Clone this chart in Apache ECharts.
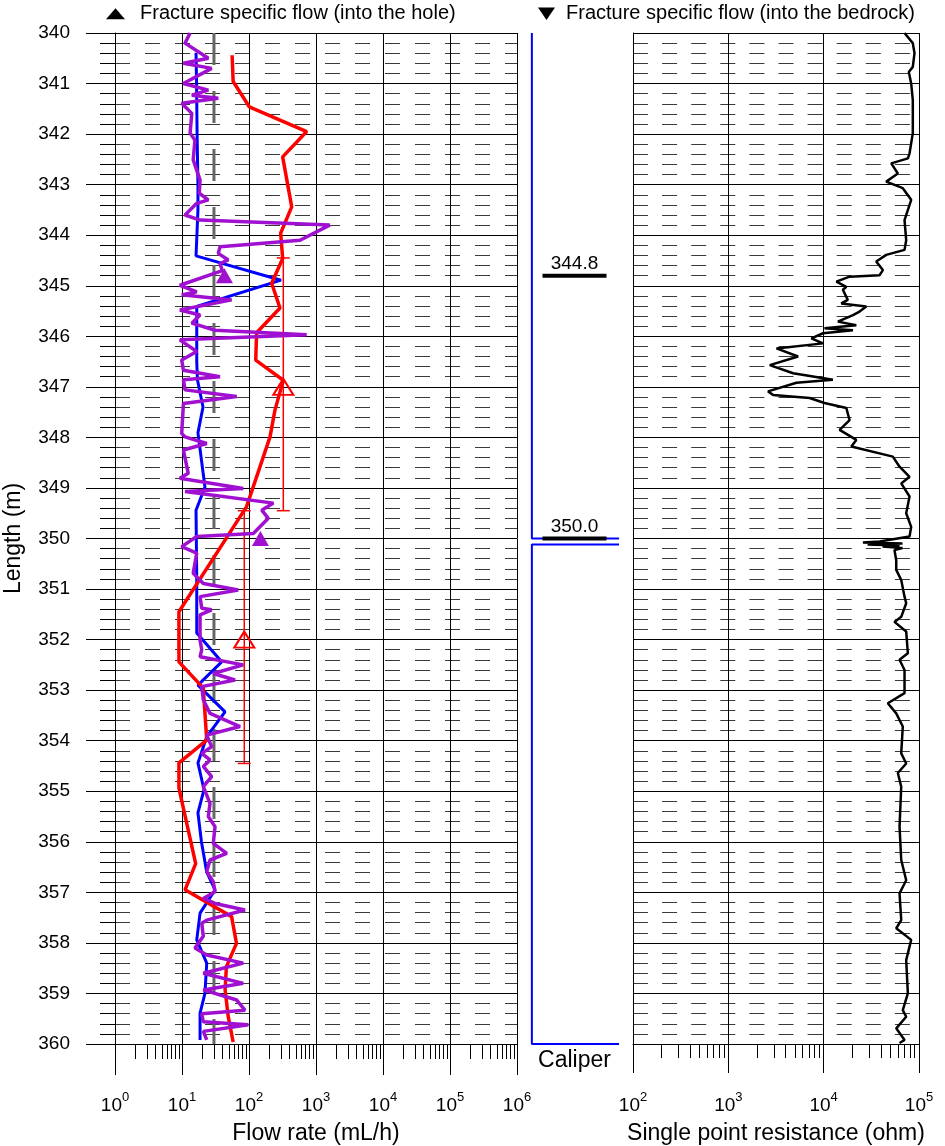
<!DOCTYPE html>
<html>
<head>
<meta charset="utf-8">
<script src="https://cdn.jsdelivr.net/npm/echarts@6/dist/echarts.min.js"></script>
<style>
	html, body { margin: 0; padding: 0; background: #ffffff; }
	#chart { width: 945px; height: 1146px; }
</style>
</head>
<body>
<div id="chart"></div>
<script>
//Depth range (m)
const depth_min = 340;
const depth_max = 360;

//Flow panel tick values (mL/h)
const flow_decades = [1, 10, 100, 1000, 10000, 100000, 1000000];
const flow_minor = [];
for (let i = 0; i < 6; i++)
	for (let k = 2; k <= 9; k++) flow_minor.push(k*Math.pow(10, i));

//Resistance panel tick values (ohm)
const spr_decades = [100, 1000, 10000, 100000];
const spr_minor = [];
for (let i = 2; i < 5; i++)
	for (let k = 2; k <= 9; k++) spr_minor.push(k*Math.pow(10, i));

//Blue flow log
const blue_depth = [340.39, 341.0, 342.0, 343.0, 343.5, 344.41, 344.89, 345.41, 346.5, 346.86, 347.40, 347.91, 348.98, 349.44, 350.82, 351.87, 352.44, 352.90, 353.43, 353.92, 354.44, 354.97, 355.43, 356.0, 356.6, 356.95, 357.41, 357.94, 358.40, 359.0, 359.39, 359.92];
const blue_flow = [16.2, 16.5, 16.8, 17.3, 17.3, 16.2, 300, 16.6, 16.6, 17.0, 20.6, 17.3, 22.0, 16.2, 16.6, 16.6, 39.1, 17.3, 43.9, 23.4, 17.3, 21.3, 17.3, 19.5, 23.4, 31.1, 18.6, 16.6, 23.4, 22.0, 18.6, 18.6];

//Red flow log
const red_depth = [340.44, 340.96, 341.46, 341.95, 342.45, 343.44, 343.96, 344.46, 344.95, 345.44, 345.93, 346.47, 346.87, 347.46, 347.99, 349.37, 351.45, 352.44, 352.96, 353.99, 354.44, 354.94, 356.43, 356.95, 357.48, 358.01, 358.47, 358.93, 359.46, 359.96];
const red_flow = [56, 58, 101, 726, 318, 434, 297, 318, 218, 290, 130, 126, 325, 244, 206, 92, 9.0, 9.0, 20.8, 23.4, 9.0, 9.0, 16.0, 11.1, 55, 65, 46, 44, 49, 58];

//Purple flow log
const purple_depth = [340.00, 340.20, 340.50, 340.60, 340.70, 341.00, 341.13, 341.23, 341.29, 341.39, 341.59, 341.98, 342.12, 342.51, 342.91, 343.17, 343.30, 343.37, 343.60, 343.70, 343.80, 344.10, 344.23, 344.36, 344.49, 344.56, 344.70, 344.99, 345.12, 345.18, 345.28, 345.48, 345.58, 345.74, 345.88, 345.97, 346.07, 346.30, 346.47, 346.67, 346.80, 346.86, 347.06, 347.19, 347.33, 347.92, 347.99, 348.12, 348.25, 348.71, 348.81, 349.01, 349.07, 349.30, 349.44, 349.60, 349.90, 349.96, 350.16, 350.29, 350.69, 350.89, 351.02, 351.15, 351.38, 351.41, 351.51, 352.01, 352.20, 352.34, 352.50, 352.67, 352.80, 352.93, 353.19, 353.46, 353.72, 353.89, 354.12, 354.25, 354.38, 354.51, 354.71, 354.91, 355.24, 355.50, 355.70, 356.03, 356.23, 356.36, 356.59, 356.79, 356.99, 357.12, 357.22, 357.35, 357.55, 357.61, 357.87, 358.10, 358.24, 358.40, 358.60, 358.80, 358.93, 359.13, 359.33, 359.40, 359.56, 359.62, 359.75, 359.92];
const purple_flow = [13.2, 11.1, 24.7, 10.5, 27.7, 10.5, 24.7, 14.0, 34.8, 9.9, 14.0, 13.2, 15.6, 14.7, 18.6, 18.1, 24.7, 16.6, 11.1, 18.6, 1600, 577, 36.9, 34.8, 49.1, 36.9, 40, 9.3, 16.6, 9.9, 55, 9.3, 18.6, 14.0, 31.1, 726, 9.3, 16.6, 9.9, 10.5, 36.9, 10.5, 11.1, 65.5, 10.5, 9.9, 11.1, 23.4, 10.5, 12.4, 9.3, 82, 11.1, 231, 155, 194, 116, 16.6, 9.9, 16.6, 14.7, 20.8, 69, 18.6, 19.7, 27.7, 18.6, 18.6, 19.7, 18.6, 82, 29.3, 61.8, 19.7, 20.8, 26.2, 73.4, 23.4, 27.7, 19.7, 26.2, 20.8, 27.7, 20.8, 26.2, 24.7, 31.1, 29.3, 46.5, 26.2, 23.4, 29.3, 31.1, 20.8, 31.1, 87, 23.4, 19.7, 20.8, 15.6, 23.4, 82, 20.8, 82, 20.8, 65.5, 87, 19.7, 20.8, 97.7, 20.8, 23.4];

//Lower measurement limit (mL/h)
const limit_flow = 30;

//Fracture specific flow, into the hole (section centre, ends)
const hole_frac_depth = [347.0, 352.0];
const hole_frac_flow = [325, 85];
const hole_frac_top = [344.45, 349.45];
const hole_frac_bottom = [349.45, 354.45];

//Fracture specific flow, purple markers
const fracture_depth = [344.8, 350.0];
const fracture_flow = [43, 148];

//Caliper (relative)
const caliper_depth = [340, 350.0, 350.0, 350.12, 350.12, 360, 360];
const caliper_value = [1, 1, 300, 300, 1, 1, 300];

//Single point resistance (ohm)
const spr_depth = [340.00, 340.20, 340.40, 340.67, 340.77, 341.00, 341.33, 341.98, 342.38, 342.48, 342.58, 342.78, 342.94, 343.07, 343.30, 343.70, 344.10, 344.29, 344.39, 344.52, 344.69, 344.79, 344.82, 344.92, 345.02, 345.08, 345.28, 345.35, 345.41, 345.51, 345.58, 345.71, 345.78, 345.84, 345.88, 345.94, 346.04, 346.14, 346.24, 346.40, 346.57, 346.73, 346.86, 346.92, 347.09, 347.16, 347.22, 347.32, 347.42, 347.66, 347.85, 348.05, 348.18, 348.38, 348.58, 348.78, 348.91, 349.17, 349.50, 349.77, 349.96, 350.06, 350.08, 350.10, 350.12, 350.14, 350.16, 350.19, 350.23, 350.43, 350.62, 350.82, 351.15, 351.28, 351.55, 351.65, 351.84, 352.27, 352.40, 352.60, 353.06, 353.26, 353.46, 353.72, 354.25, 354.45, 354.64, 354.91, 355.70, 356.36, 356.76, 357.02, 357.55, 357.71, 357.94, 358.34, 359.00, 359.33, 359.46, 359.69, 359.92, 359.98];
const spr_value = [70500, 86100, 89700, 86100, 78200, 82800, 86100, 86100, 79600, 76400, 51200, 60000, 45300, 67600, 82800, 70500, 73400, 70500, 45300, 35600, 41800, 38600, 18700, 13600, 17300, 15900, 17900, 15300, 28000, 23800, 20300, 14100, 22000, 10200, 20300, 9840, 7430, 9840, 3200, 5390, 2720, 4780, 12500, 5180, 2610, 2950, 7130, 10200, 17300, 18700, 14700, 22000, 19500, 53200, 62500, 79600, 65100, 79600, 73400, 82800, 79600, 38600, 25800, 67100, 28900, 62500, 41500, 67100, 55300, 57700, 57700, 65100, 70500, 73400, 65100, 55300, 73400, 76400, 62500, 70500, 70500, 47100, 57700, 67600, 65100, 73400, 60000, 65100, 62500, 65100, 73400, 62500, 65100, 57700, 82800, 73400, 76400, 67600, 73400, 57700, 70500, 62500];

//Declare local instance variables
const font_family = "'Liberation Sans', Arial, sans-serif";
const text_colour = "#000000";
let chart = echarts.init(document.getElementById("chart"), null, { renderer: "canvas" });

function zipSeries (arg0_values, arg1_depths) {
	//Convert from parameters
	let values = arg0_values;
	let depths = arg1_depths;
	
	//Return statement
	return values.map((local_value, i) => [local_value, depths[i]]);
}

function powerLabel (arg0_value) {
	//Return statement
	return `{b|10}{s|${Math.round(Math.log10(arg0_value))}}`;
}

let power_rich = {
	b: { fontSize: 19, fontFamily: font_family, color: text_colour, verticalAlign: "bottom", padding: [5, 0, 0, 0] },
	s: { fontSize: 13, fontFamily: font_family, color: text_colour, verticalAlign: "top" }
};
let name_style = { fontSize: 23, fontFamily: font_family, color: text_colour };

function depthAxis (arg0_grid_index, arg1_options) {
	//Convert from parameters
	let grid_index = arg0_grid_index;
	let options = (arg1_options) ? arg1_options : {};
	
	//Return statement
	return Object.assign({
		gridIndex: grid_index,
		type: "value",
		inverse: true,
		min: depth_min,
		max: depth_max,
		interval: 1,
		axisLine: { show: true, onZero: false, lineStyle: { color: "#000", width: 1 } },
		axisTick: { show: false },
		minorTick: { show: false, splitNumber: 5 },
		axisLabel: { show: false },
		splitLine: { show: true, lineStyle: { color: "#000", width: 1 } },
		minorSplitLine: { show: true, lineStyle: { color: "#3a3a3a", width: 1, type: [15, 15] } }
	}, options);
}

function logAxis (arg0_grid_index, arg1_options) {
	//Convert from parameters
	let grid_index = arg0_grid_index;
	let options = (arg1_options) ? arg1_options : {};
	
	//Return statement
	return Object.assign({
		gridIndex: grid_index,
		type: "log",
		logBase: 10,
		position: "bottom",
		axisLine: { show: false, onZero: false },
		axisTick: { show: false },
		axisLabel: { show: false },
		splitLine: { show: false }
	}, options);
}

//Error bars for fracture specific flow
let error_bar_series = hole_frac_flow.map((local_flow, i) => ({
	type: "line",
	xAxisIndex: 0, yAxisIndex: 0,
	data: [[local_flow, hole_frac_top[i]], [local_flow, hole_frac_bottom[i]]],
	symbol: "rect",
	symbolSize: [13, 1.5],
	showSymbol: true,
	itemStyle: { color: "#ff0000", opacity: 1 },
	lineStyle: { color: "#ff0000", width: 1.5 },
	z: 3
}));

let option = {
	animation: false,
	backgroundColor: "#ffffff",
	grid: [
		{ left: 115, top: 33, width: 402, height: 1011, outerBoundsMode: "none", containLabel: false },
		{ left: 531, top: 33, width: 87, height: 1011, outerBoundsMode: "none", containLabel: false },
		{ left: 633, top: 33, width: 286, height: 1011, outerBoundsMode: "none", containLabel: false }
	],
	graphic: [
		{ type: "polygon", shape: { points: [[106, 19.3], [125, 19.3], [115.5, 8.3]] }, style: { fill: "#000" } },
		{ type: "text", x: 140, y: 13, style: { text: "Fracture specific flow (into the hole)", fontSize: 20, fontFamily: font_family, fill: text_colour, verticalAlign: "middle" } },
		{ type: "polygon", shape: { points: [[538, 7.5], [555, 7.5], [546.5, 20]] }, style: { fill: "#000" } },
		{ type: "text", x: 566, y: 13, style: { text: "Fracture specific flow (into the bedrock)", fontSize: 20, fontFamily: font_family, fill: text_colour, verticalAlign: "middle" } }
	],
	xAxis: [
		logAxis(0, {
			min: 1, max: 1000000,
			axisLine: { show: true, onZero: false, lineStyle: { color: "#000", width: 1 } },
			axisTick: { show: true, length: 31, customValues: flow_decades, lineStyle: { color: "#000" } },
			axisLabel: { show: true, customValues: flow_decades, margin: 47, formatter: powerLabel, rich: power_rich },
			splitLine: { show: true, lineStyle: { color: "#000", width: 1 } },
			name: "Flow rate (mL/h)", nameLocation: "middle", nameGap: 78, nameTextStyle: name_style
		}),
		logAxis(0, {
			min: 1, max: 1000000,
			axisTick: { show: true, length: 15, customValues: flow_minor, lineStyle: { color: "#000" } }
		}),
		{
			gridIndex: 1, type: "value", min: 0, max: 100, position: "bottom",
			axisLine: { show: false }, axisTick: { show: false }, axisLabel: { show: false }, splitLine: { show: false },
			name: "Caliper", nameLocation: "middle", nameGap: 5, nameTextStyle: name_style
		},
		logAxis(2, {
			min: 100, max: 100000,
			axisLine: { show: true, onZero: false, lineStyle: { color: "#000", width: 1 } },
			axisTick: { show: true, length: 29, customValues: spr_decades, lineStyle: { color: "#000" } },
			axisLabel: { show: true, customValues: spr_decades, margin: 47, formatter: powerLabel, rich: power_rich },
			splitLine: { show: true, lineStyle: { color: "#000", width: 1 } },
			name: "Single point resistance (ohm)", nameLocation: "middle", nameGap: 78, nameTextStyle: name_style
		}),
		logAxis(2, {
			min: 100, max: 100000,
			axisTick: { show: true, length: 14, customValues: spr_minor, lineStyle: { color: "#000" } }
		})
	],
	yAxis: [
		depthAxis(0, {
			axisTick: { show: true, length: 29, lineStyle: { color: "#000" } },
			minorTick: { show: true, splitNumber: 5, length: 15, lineStyle: { color: "#000", width: 1 } },
			axisLabel: { show: true, margin: 45, fontSize: 19, fontFamily: font_family, color: text_colour },
			name: "Length (m)", nameLocation: "middle", nameGap: 90, nameTextStyle: name_style
		}),
		depthAxis(1, { show: false }),
		depthAxis(2, {
			minorSplitLine: { show: true, lineStyle: { color: "#3a3a3a", width: 1, type: [15, 14.1] } }
		})
	],
	series: [
		{
			type: "line", xAxisIndex: 0, yAxisIndex: 0,
			data: [[limit_flow, depth_min], [limit_flow, depth_max]],
			symbol: "none",
			lineStyle: { color: "#666666", width: 3, type: [32, 26] },
			z: 2
		},
		...error_bar_series,
		{
			type: "line", xAxisIndex: 0, yAxisIndex: 0,
			data: zipSeries(blue_flow, blue_depth),
			symbol: "none",
			lineStyle: { color: "#0000ff", width: 3 },
			z: 4
		},
		{
			type: "line", xAxisIndex: 0, yAxisIndex: 0,
			data: zipSeries(red_flow, red_depth),
			symbol: "none",
			lineStyle: { color: "#ff0000", width: 3.5 },
			z: 5
		},
		{
			type: "line", xAxisIndex: 0, yAxisIndex: 0,
			data: zipSeries(purple_flow, purple_depth),
			symbol: "none",
			lineStyle: { color: "#a010d0", width: 3.5 },
			z: 6
		},
		{
			type: "scatter", xAxisIndex: 0, yAxisIndex: 0,
			data: zipSeries(fracture_flow, fracture_depth),
			symbol: "triangle",
			symbolSize: [17, 15],
			itemStyle: { color: "#a010d0", opacity: 1 },
			z: 7
		},
		{
			type: "scatter", xAxisIndex: 0, yAxisIndex: 0,
			data: zipSeries(hole_frac_flow, hole_frac_depth),
			symbol: "triangle",
			symbolSize: [20, 16],
			itemStyle: { color: "rgba(0,0,0,0)", borderColor: "#ff0000", borderWidth: 2, opacity: 1 },
			z: 8
		},
		{
			type: "line", xAxisIndex: 2, yAxisIndex: 1,
			data: zipSeries(caliper_value, caliper_depth),
			symbol: "none",
			clip: true,
			lineStyle: { color: "#0000ff", width: 2 },
			z: 4
		},
		{
			type: "scatter", xAxisIndex: 2, yAxisIndex: 1,
			data: fracture_depth.map((local_depth) => [50, local_depth]),
			symbol: "rect",
			symbolSize: [64, 4],
			itemStyle: { color: "#000", opacity: 1 },
			label: {
				show: true, position: "top", distance: 0,
				formatter: (params) => params.value[1].toFixed(1),
				fontSize: 19, fontFamily: font_family, color: text_colour
			},
			z: 6
		},
		{
			type: "line", xAxisIndex: 3, yAxisIndex: 2,
			data: zipSeries(spr_value, spr_depth),
			symbol: "none",
			lineStyle: { color: "#000000", width: 2.5 },
			z: 4
		}
	]
};

chart.setOption(option);
</script>
</body>
</html>
